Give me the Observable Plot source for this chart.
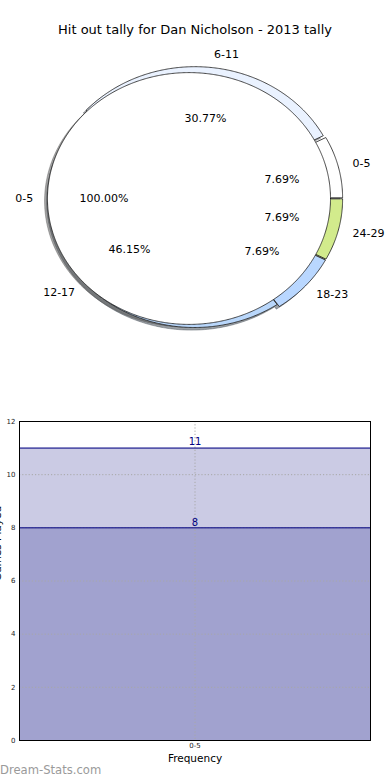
<!DOCTYPE html>
<html><head><meta charset="utf-8">
<script src="https://cdn.jsdelivr.net/npm/d3@7"></script>
<script src="https://cdn.jsdelivr.net/npm/@observablehq/plot@0.6"></script>
<style>
body{margin:0;background:#fff;font-family:"DejaVu Sans",sans-serif;}
#wrap{position:relative;width:390px;height:780px;overflow:hidden;}
#title{position:absolute;top:22px;left:0;width:390px;text-align:center;font-size:13px;line-height:16px;color:#000;}
#pie{position:absolute;top:0;left:0;}
#bar{position:absolute;top:400px;left:0;}
#brand{position:absolute;left:0;top:763px;font-size:11.6px;line-height:14px;color:#9a9a9a;}
svg{font-family:"DejaVu Sans",sans-serif;}
</style></head>
<body><div id="wrap"><div id="pie"></div><div id="title">Hit out tally for Dan Nicholson - 2013 tally</div><div id="bar"></div><div id="brand">Dream-Stats.com</div></div>
<script>
// ---- data ----
const pieLabels = ["0-5", "6-11", "12-17", "18-23", "24-29"];
const pieValues = [1, 4, 6, 1, 1];
const pieColors = ["#ffffff", "#eaf2ff", "#b9d7fb", "#b9d7ff", "#d2eb8c"];
const innerLabels = ["0-5"];
const innerValues = [13];
const innerColors = ["#ffffff"];
const barCategories = ["0-5"];
const barTotal = [11];
const barPart = [8];
const yTicks = [0, 2, 4, 6, 8, 10, 12];

// ---- pie geometry (matplotlib-like: start at 0 rad, counter-clockwise) ----
function wedges(prefix, labels, values, colors, radius, explodeOf) {
  const total = d3.sum(values);
  let cum = 0;
  const pts = [], pct = [], names = [];
  values.forEach((v, i) => {
    const a1 = cum / total * 2 * Math.PI; cum += v;
    const a2 = cum / total * 2 * Math.PI;
    const m = (a1 + a2) / 2;
    const ex = explodeOf(i);
    const cx = ex * Math.cos(m), cy = ex * Math.sin(m);
    const full = (a2 - a1) >= 2 * Math.PI - 1e-9;
    const id = prefix + i;
    const c = d3.rgb(colors[i]);
    const sfill = d3.rgb(c.r * 0.3, c.g * 0.3, c.b * 0.3).formatHex();
    if (!full) pts.push({id, x: cx, y: cy, fill: colors[i], sfill});
    const n = Math.max(2, Math.ceil((a2 - a1) / (Math.PI / 360)));
    for (let k = 0; k <= n; k++) {
      const a = a1 + (a2 - a1) * k / n;
      pts.push({id, x: cx + radius * Math.cos(a), y: cy + radius * Math.sin(a), fill: colors[i], sfill});
    }
    pct.push({x: cx + 0.6 * radius * Math.cos(m), y: cy + 0.6 * radius * Math.sin(m), text: (v / total * 100).toFixed(2) + "%"});
    names.push({x: cx + 1.1 * radius * Math.cos(m), y: cy + 1.1 * radius * Math.sin(m), text: labels[i], right: Math.cos(m) >= 0});
  });
  return {pts, pct, names};
}
const outer = wedges("o", pieLabels, pieValues, pieColors, 1.0, i => (pieLabels[i] === "12-17" ? 0 : 0.022));
const inner = wedges("i", innerLabels, innerValues, innerColors, 0.976, () => 0.038);
const allNames = outer.names.concat(inner.names);
const allPct = outer.pct.concat(inner.pct);

const piePlot = Plot.plot({
  width: 390, height: 400, margin: 0,
  x: {domain: [-1, 1], range: [194 - 145, 194 + 145], axis: null},
  y: {domain: [-1, 1], range: [198 + 129, 198 - 129], axis: null},
  color: {type: "identity"},
  marks: [
    Plot.line(outer.pts.concat(inner.pts), {x: "x", y: "y", z: "id", fill: "sfill", stroke: "sfill", fillOpacity: 0.5, strokeOpacity: 0.5, strokeWidth: 0.8, curve: "linear-closed", dx: -2.9, dy: 2.6}),
    Plot.line(outer.pts, {x: "x", y: "y", z: "id", fill: "fill", stroke: "#1a1a1a", strokeWidth: 0.8, curve: "linear-closed"}),
    Plot.line(inner.pts, {x: "x", y: "y", z: "id", fill: "fill", stroke: "#1a1a1a", strokeWidth: 0.8, curve: "linear-closed"}),
    Plot.text(allPct, {x: "x", y: "y", text: "text", fontSize: 11, fill: "#000"}),
    Plot.text(allNames.filter(d => d.right), {x: "x", y: "y", text: "text", fontSize: 11, fill: "#000", textAnchor: "start"}),
    Plot.text(allNames.filter(d => !d.right), {x: "x", y: "y", text: "text", fontSize: 11, fill: "#000", textAnchor: "end"})
  ]
});
document.getElementById("pie").appendChild(piePlot);

// ---- bar chart ----
const barData = barCategories.map((c, i) => ({cat: c, total: barTotal[i], part: barPart[i]}));
const navy = "#000080";
const barPlot = Plot.plot({
  width: 390, height: 380, marginTop: 21, marginBottom: 40, marginLeft: 19, marginRight: 20,
  x: {domain: barCategories, padding: 0},
  y: {domain: [0, 12]},
  marks: [
    Plot.barY(barData, {x: "cat", y: "total", fill: "#cbcbe4"}),
    Plot.barY(barData, {x: "cat", y: "part", fill: "#a1a2cf"}),
    Plot.ruleY(yTicks.slice(1, -1), {stroke: "#a8a8a8", strokeDasharray: "1.2,2", strokeWidth: 1}),
    Plot.ruleX(barData, {x: "cat", stroke: "#a8a8a8", strokeDasharray: "1.2,2", strokeWidth: 1}),
    Plot.ruleY(barData, {y: "total", stroke: navy, strokeWidth: 1}),
    Plot.ruleY(barData, {y: "part", stroke: navy, strokeWidth: 1}),
    Plot.text(barData, {x: "cat", y: "total", text: d => String(d.total), fill: navy, fontSize: 10, lineAnchor: "bottom", dy: -3}),
    Plot.text(barData, {x: "cat", y: "part", text: d => String(d.part), fill: navy, fontSize: 10, lineAnchor: "bottom", dy: -2}),
    Plot.frame({stroke: "#000", strokeWidth: 1}),
    Plot.axisY({ticks: yTicks, tickSize: 0, tickPadding: 4, fontSize: 7, label: null, color: "#222"}),
    Plot.axisX({tickSize: 0, tickPadding: 3, fontSize: 7, label: null, color: "#222"}),
    Plot.text(["Frequency"], {frameAnchor: "bottom", dy: 21, fontSize: 10.5, fill: "#000"}),
    Plot.text(["Games Played"], {frameAnchor: "left", rotate: -90, dx: -21.5, fontSize: 10.5, fill: "#000"})
  ]
});
document.getElementById("bar").appendChild(barPlot);
</script>
</body></html>
